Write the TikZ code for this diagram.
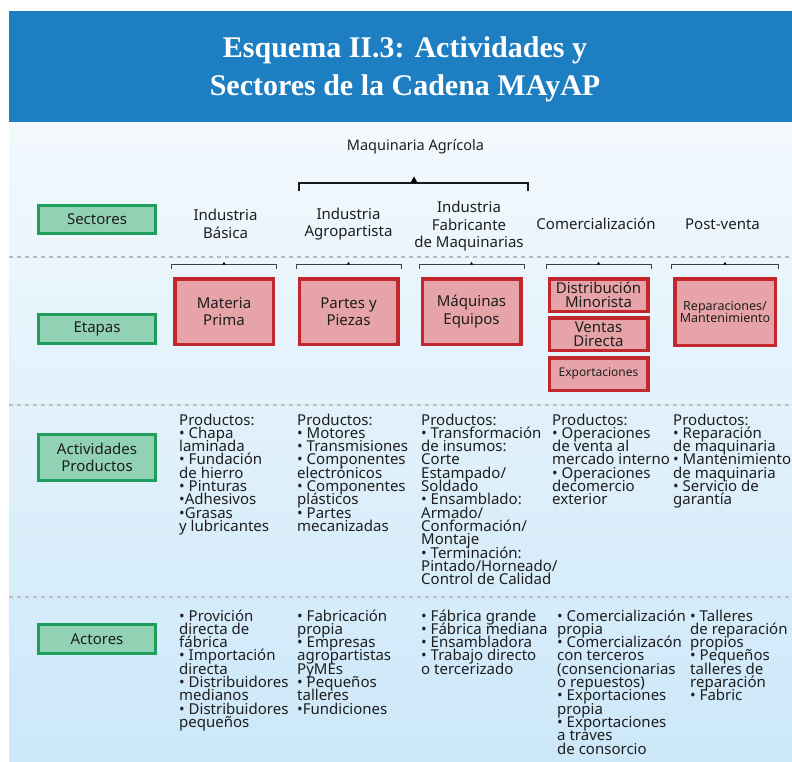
\documentclass[tikz,border=0pt]{standalone}
\usepackage{fontspec}
\setmainfont{Noto Sans}
\newfontfamily\titlefont{Liberation Serif}
\usetikzlibrary{calc}
\definecolor{hdrblue}{HTML}{1E7EC2}
\definecolor{bgtop}{HTML}{F3F9FD}
\definecolor{bgbot}{HTML}{CCE8F9}
\definecolor{gfill}{HTML}{92D2B4}
\definecolor{gline}{HTML}{1E9E5A}
\definecolor{rfill}{HTML}{E6A4A8}
\definecolor{rline}{HTML}{C1272D}
\definecolor{sepc}{HTML}{BDBDBD}
\definecolor{txt}{HTML}{1E1E1E}
\lineskiplimit=-50pt
\tikzset{
  titlestyle/.style={text=white, align=center, inner sep=0pt,
    font=\titlefont\bfseries\fontsize{30}{38}\selectfont},
  sepline/.style={draw=sepc, line width=2pt, dash pattern=on 3.5pt off 4.5pt},
  gbox/.style={draw=gline, fill=gfill, line width=3pt, minimum width=117pt,
    inner sep=1pt, align=center, text=txt,
    font=\fontsize{15}{16.7}\selectfont},
  rbox/.style={draw=rline, fill=rfill, line width=3.5pt, minimum width=98.5pt,
    inner sep=1pt, align=center, text=txt,
    font=\fontsize{15}{17.5}\selectfont},
  seclabel/.style={align=center, inner sep=0pt, text=txt,
    font=\fontsize{15}{17.5}\selectfont},
  % anchor: baseline of the LAST line
  lst/.style={anchor=base west, align=left, inner sep=0pt, text=txt,
    font=\fontsize{15}{13.3}\selectfont},
  brk/.style={draw=black!75, line width=0.8pt},
  bigbrk/.style={draw=black!90, line width=1.3pt},
}
\newcommand{\smallbrk}[1]{%
  \draw[brk] ($(#1.north west)+(-1.5,-8.5)$) -- ++(0,-4) -| ($(#1.north east)+(1.5,-8.5)$);
  \fill[black] ($(#1.north)+(-1.6,-12.5)$) -- ++(1.6,-2.6) -- ++(1.6,2.6) -- cycle;
}
\begin{document}
\begin{tikzpicture}[x=1pt,y=-1pt]
\useasboundingbox (0,0) rectangle (792,762);
\fill[white] (0,0) rectangle (792,762);
% background
\shade[top color=bgtop, bottom color=bgbot] (9,122) rectangle (792,762);
% header
\fill[hdrblue] (9,11) rectangle (792,122);
\node[titlestyle] (title) at (405,69) {Esquema II.3: Actividades y\\Sectores de la Cadena MAyAP};
% separators
\draw[sepline] (9,257) -- (792,257);
\draw[sepline] (9,405) -- (792,405);
\draw[sepline] (9,597) -- (792,597);
% row labels
\node[gbox, minimum height=28pt] (sect) at (97,219.5) {Sectores};
\node[gbox, minimum height=29pt] (etap) at (97,329) {Etapas};
\node[gbox, minimum height=46pt] (activ) at (97,457.5) {Actividades\\Productos};
\node[gbox, minimum height=29pt] (actor) at (97,639) {Actores};
% sectors
\node[seclabel, font=\fontsize{14.5}{17}\selectfont] (maq) at (415.5,147) {Maquinaria Agrícola};
\coordinate (bl) at (299,183);
\coordinate (br) at (528,183);
\draw[bigbrk] ($(bl)+(0,8)$) -- (bl) -- (br) -- ($(br)+(0,8)$);
\fill[black] (410,183.5) -- (414,176.5) -- (418,183.5) -- cycle;
\node[seclabel] (s1) at (225.5,224) {Industria\\Básica};
\node[seclabel] (s2) at (348.5,224) {Industria\\Agropartista};
\node[seclabel] (s3) at (469,226.5) {Industria\\Fabricante\\de Maquinarias};
\node[seclabel] (s4) at (596,224) {Comercialización};
\node[seclabel] (s5) at (722.5,224) {Post-venta};
% stages
\node[rbox, minimum height=65.5pt] (mp) at (224,311.5) {Materia\\Prima};
\node[rbox, minimum height=65.5pt] (pp) at (348.5,311.5) {Partes y\\Piezas};
\node[rbox, minimum height=65.5pt] (me) at (471.5,311.5) {Máquinas\\Equipos};
\node[rbox, minimum height=32.5pt, font=\fontsize{15}{13.5}\selectfont] (dm) at (598.5,295) {Distribución\\Minorista};
\node[rbox, minimum height=32.5pt, font=\fontsize{15}{13.5}\selectfont] (vd) at (598.5,334) {Ventas\\Directa};
\node[rbox, minimum height=32.5pt, font=\fontsize{12}{13}\selectfont] (ex) at (598.5,374) {Exportaciones};
\node[rbox, minimum height=66.5pt, minimum width=100.5pt, font=\fontsize{12.5}{12.5}\selectfont] (rm) at (725,312) {Reparaciones/\\Mantenimiento};
\smallbrk{mp}
\smallbrk{pp}
\smallbrk{me}
\smallbrk{dm}
\smallbrk{rm}
% products (positions = baseline of last line; first baseline 425, step 13.3)
\node[lst] (p1) at (179,531.4) {Productos:\\• Chapa\\laminada\\• Fundación\\de hierro\\• Pinturas\\•Adhesivos\\•Grasas\\y lubricantes};
\node[lst] (p2) at (297,531.4) {Productos:\\• Motores\\• Transmisiones\\• Componentes\\electrónicos\\• Componentes\\plásticos\\• Partes\\mecanizadas};
\node[lst] (p3) at (421,584.6) {Productos:\\• Transformación\\de insumos:\\Corte\\Estampado/\\Soldado\\• Ensamblado:\\Armado/\\Conformación/\\Montaje\\• Terminación:\\Pintado/Horneado/\\Control de Calidad};
\node[lst] (p4) at (552,504.8) {Productos:\\• Operaciones\\de venta al\\mercado interno\\• Operaciones\\decomercio\\exterior};
\node[lst] (p5) at (673,504.8) {Productos:\\• Reparación\\de maquinaria\\• Mantenimiento\\de maquinaria\\• Servicio de\\garantía};
% actors (first baseline 621)
\node[lst] (a1) at (179,727.4) {• Provición\\directa de\\fábrica\\• Importación\\directa\\• Distribuidores\\medianos\\• Distribuidores\\pequeños};
\node[lst] (a2) at (297,714.1) {• Fabricación\\propia\\• Empresas\\agropartistas\\PyMEs\\• Pequeños\\talleres\\•Fundiciones};
\node[lst] (a3) at (421,674.2) {• Fábrica grande\\• Fábrica mediana\\• Ensambladora\\• Trabajo directo\\o tercerizado};
\node[lst] (a4) at (557,754) {• Comercialización\\propia\\• Comercializacón\\con terceros\\(consencionarias\\o repuestos)\\• Exportaciones\\propia\\• Exportaciones\\a traves\\de consorcio};
\node[lst] (a5) at (690,700.8) {• Talleres\\de reparación\\propios\\• Pequeños\\talleres de\\reparación\\• Fabric};
\end{tikzpicture}
\end{document}
